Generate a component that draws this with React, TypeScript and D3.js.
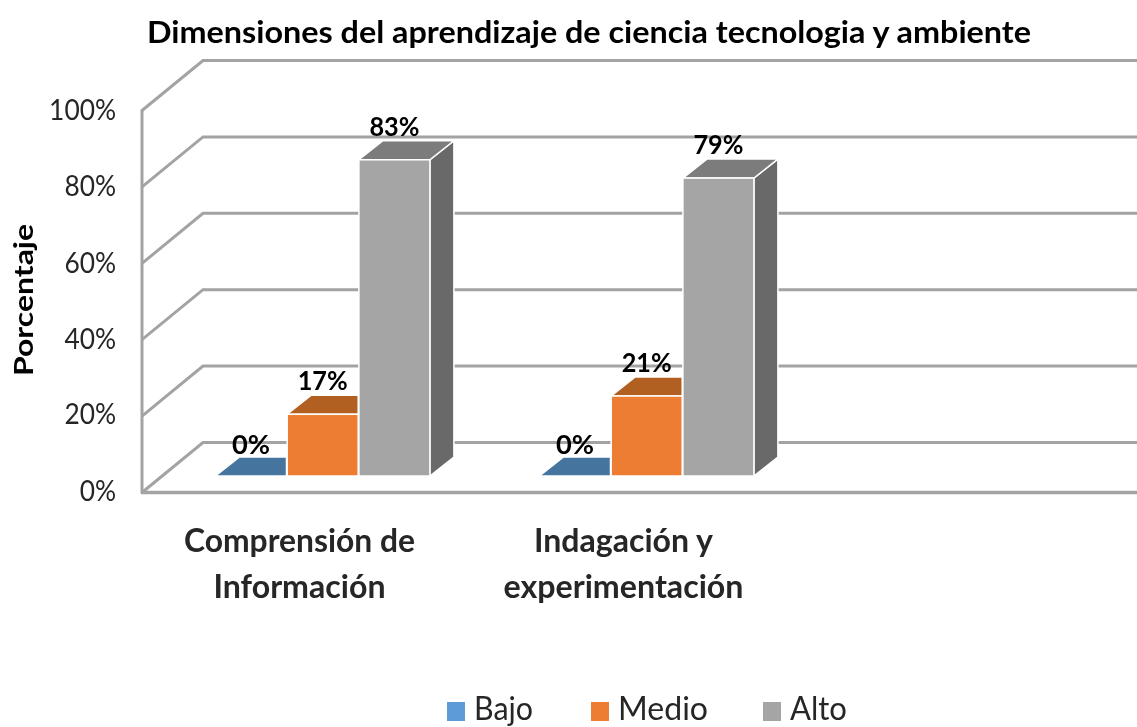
import React from "react";
import * as d3 from "d3";

const categories = ["Comprensión de|Información", "Indagación y|experimentación"];
const seriesNames = ["Bajo", "Medio", "Alto"];
const bajo = [0, 0];
const medio = [16.2, 21];
const alto = [83, 78.2];
const bajoLabels = ["0%", "0%"];
const medioLabels = ["17%", "21%"];
const altoLabels = ["83%", "79%"];
const ticks = [0, 20, 40, 60, 80, 100];
const title = "Dimensiones del aprendizaje de ciencia  tecnologia y ambiente";
const yTitle = "Porcentaje";

const front = ["#5b9bd5", "#ed7d31", "#a5a5a5"];
const topC = ["#44749f", "#b25e22", "#7c7c7c"];
const sideC = ["#3a6389", "#94501d", "#696969"];
const grid = "#a3a3a3";
const font = "Lato, Carlito, sans-serif";

export default function App() {
  const W = 1137, H = 727;
  const yFront = d3.scaleLinear().domain([0, 100]).range([492.5, 110.5]);
  const yBack = (v: number) => yFront(v) - 50;
  const yBar = d3.scaleLinear().domain([0, 100]).range([476, 95]);
  const x0 = d3.scaleBand<number>().domain([0, 1, 2]).range([215.5, 1187.5]);
  const barW = 71;
  const step = 71.7;
  const series = [bajo, medio, alto];
  const labels = [bajoLabels, medioLabels, altoLabels];
  const depthX = 24, depthY = 19;

  return (
    <svg width={W} height={H} style={{ position: "fixed", left: 0, top: 0, background: "#fff" }} fontFamily={font}>
      <defs>
        <filter id="soft" x="-5%" y="-5%" width="110%" height="110%"><feGaussianBlur stdDeviation="0.5" /></filter>
      </defs>
      <g filter="url(#soft)">
        <text x={147} y={43} fontSize={31} fontWeight={700} textLength={884} lengthAdjust="spacingAndGlyphs" fill="#000">{title}</text>
        {ticks.map((t) => (
          <polyline key={t} fill="none" stroke={grid} strokeWidth={3}
            points={`142,${yFront(t)} 203,${yBack(t)} 1137,${yBack(t)}`} />
        ))}
        <line x1={142} x2={142} y1={yFront(100) - 1} y2={yFront(0) + 1} stroke={grid} strokeWidth={3} />
        <line x1={141} x2={1137} y1={yFront(0)} y2={yFront(0)} stroke={grid} strokeWidth={3.5} />
        {ticks.map((t) => (
          <text key={t} transform={`translate(116,${yFront(t) + 9.5 - (t < 30 ? 1.5 : 0)}) scale(0.94,1)`} fontSize={28} textAnchor="end" fill="#262626">{t}%</text>
        ))}
        <text transform="translate(33,300) rotate(-90)" fontSize={26} fontWeight={700} textAnchor="middle" textLength={152} lengthAdjust="spacingAndGlyphs" fill="#000">{yTitle}</text>

        {categories.map((c, ci) => (
          <g key={c}>
            {series.map((s, si) => {
              const x = x0(ci)! + si * step;
              const yt = yBar(s[ci]);
              const yb = yBar(0);
              return (
                <g key={si}>
                  {si === 2 && (
                    <path d={`M${x + barW},${yt} l${depthX},${-depthY} L${x + barW + depthX},${yb - depthY} L${x + barW},${yb} Z`} fill={sideC[si]} stroke="#fff" strokeWidth={1.5} />
                  )}
                  <path d={si === 2
                    ? `M${x},${yt} l${depthX},${-depthY} h${barW} l${-depthX},${depthY} Z`
                    : `M${x},${yt} l${depthX},${-depthY} H${x + barW} V${yt} Z`}
                    fill={topC[si]} stroke="#fff" strokeWidth={1.5} />
                  {s[ci] > 0 && <rect x={x} y={yt} width={barW} height={yb - yt} fill={front[si]} stroke="#fff" strokeWidth={1.5} />}
                </g>
              );
            })}
            {series.map((s, si) => (
              <text key={si} x={x0(ci)! + si * step + 35.5} y={si === 0 ? 454 : yBar(s[ci]) - 24}
                fontSize={27} fontWeight={700} textAnchor="middle" textLength={si === 0 ? 38 : 50} lengthAdjust="spacingAndGlyphs" fill="#000">{labels[si][ci]}</text>
            ))}
            {c.split("|").map((ln, li) => (
              <text key={li} x={x0(ci)! + 84} y={552 + li * 46} fontSize={32} fontWeight={700} textAnchor="middle"
                textLength={[[231, 172], [179, 240]][ci][li]} lengthAdjust="spacingAndGlyphs" fill="#262626">{ln}</text>
            ))}
          </g>
        ))}

        {seriesNames.map((n, i) => {
          const sx = [447, 591, 763][i];
          return (
            <g key={n}>
              <rect x={sx} y={702} width={18} height={19} fill={front[i]} />
              <text x={sx + 27} y={720} fontSize={32} textLength={[59, 90, 57][i]} lengthAdjust="spacingAndGlyphs" fill="#262626">{n}</text>
            </g>
          );
        })}
      </g>
    </svg>
  );
}
